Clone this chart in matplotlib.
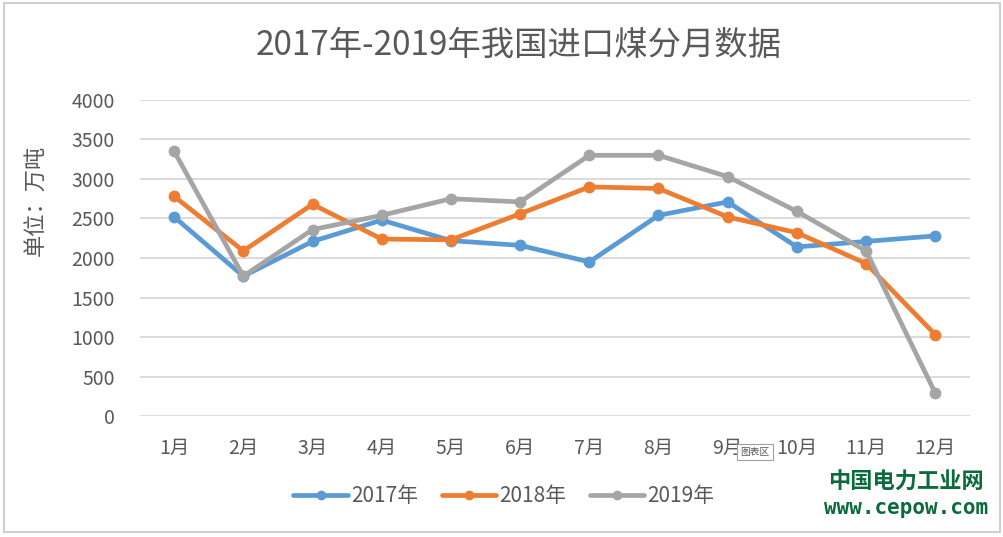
import matplotlib.pyplot as plt
from matplotlib.patches import Rectangle

plt.rcParams['font.family'] = ['Noto Sans CJK SC', 'DejaVu Sans']

# data (万吨)
months = ['1月', '2月', '3月', '4月', '5月', '6月', '7月', '8月', '9月', '10月', '11月', '12月']
y2017 = [2520, 1770, 2210, 2480, 2220, 2160, 1950, 2540, 2710, 2140, 2210, 2280]
y2018 = [2780, 2090, 2680, 2240, 2230, 2560, 2900, 2880, 2520, 2320, 1930, 1030]
y2019 = [3350, 1770, 2360, 2540, 2750, 2710, 3300, 3300, 3030, 2590, 2090, 290]
yticks = [0, 500, 1000, 1500, 2000, 2500, 3000, 3500, 4000]

fig = plt.figure(figsize=(10.04, 5.37), dpi=100)
ax = fig.add_axes([0.139, 0.2253, 0.827, 0.5885])

x = range(len(months))
series = [(y2017, '#5B9BD5', '2017年'), (y2018, '#ED7D31', '2018年'), (y2019, '#A5A5A5', '2019年')]
for vals, col, lab in series:
    ax.plot(x, vals, color=col, lw=3.4, marker='o', markersize=7.5, label=lab,
            solid_joinstyle='round', solid_capstyle='round')

ax.set_xlim(-0.5, len(months) - 0.5)
ax.set_ylim(0, 4000)
ax.set_yticks(yticks)
ax.set_xticks(list(x))
ax.set_xticklabels(months)
ax.grid(axis='y', color='#D9D9D9', lw=1.3)
ax.set_axisbelow(True)
for s in ax.spines.values():
    s.set_visible(False)
ax.tick_params(length=0, labelsize=14, colors='#595959', pad=16)
ax.tick_params(axis='y', pad=18)

fig.text(0.036, 0.626, '单位：万吨', rotation=90, ha='center', va='center',
         fontsize=16, color='#595959')

fig.text(0.517, 0.915, '2017年-2019年我国进口煤分月数据', ha='center', va='center',
         fontsize=24, color='#595959')

leg = fig.legend(loc='center', bbox_to_anchor=(0.502, 0.076), ncol=3, frameon=False,
                 fontsize=15, handlelength=2.6, columnspacing=1.15, handletextpad=0.15,
                 markerscale=0.8)
for t in leg.get_texts():
    t.set_color('#595959')

# chart area frame
fig.patches.append(Rectangle((0.004, 0.01), 0.992, 0.985, transform=fig.transFigure,
                             fill=False, edgecolor='#D0D0D0', lw=1.5))

# tooltip box
fig.text(0.752, 0.158, '图表区', ha='center', va='center', fontsize=7, color='#595959',
         bbox=dict(boxstyle='square,pad=0.3', fc='white', ec='#A0A0A0', lw=0.8))

# watermark
fig.text(0.902, 0.102, '中国电力工业网', ha='center', va='center', fontsize=16,
         fontweight='bold', color='#0B6B3A')
fig.text(0.902, 0.054, 'www.cepow.com', ha='center', va='center', fontsize=15,
         fontweight='bold', color='#0B6B3A', family='DejaVu Sans Mono')

fig.savefig('out.png', dpi=100)
